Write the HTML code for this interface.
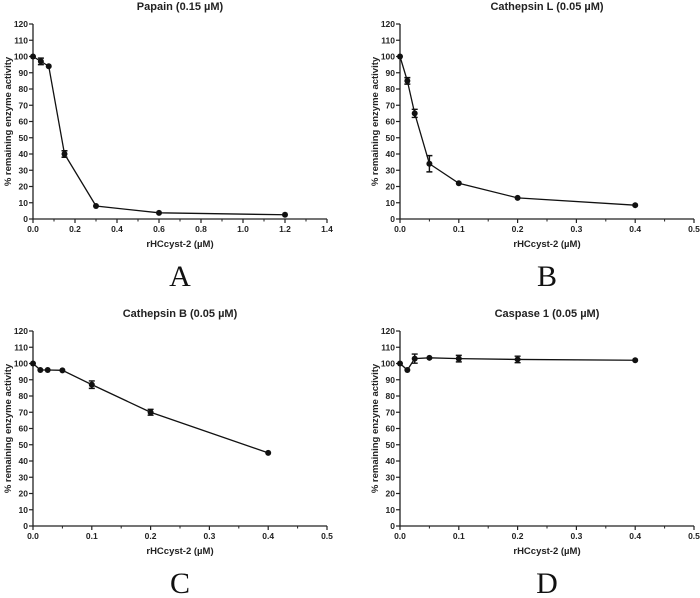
<!DOCTYPE html>
<html><head><meta charset="utf-8"><style>
html,body{margin:0;padding:0;background:#fff;width:700px;height:598px;overflow:hidden}
svg{display:block}
.t{font-family:"Liberation Sans",Arial,sans-serif;font-weight:bold;fill:#222}
</style></head><body>
<svg id="chart" width="700" height="598" viewBox="0 0 700 598" xmlns="http://www.w3.org/2000/svg"></svg>
<script>
const yTicks=[0,10,20,30,40,50,60,70,80,90,100,110,120];
const xTicksA=[0,0.2,0.4,0.6,0.8,1.0,1.2,1.4];
const xTicksB=[0,0.1,0.2,0.3,0.4,0.5];
const xA=[0,0.0375,0.075,0.15,0.3,0.6,1.2];
const yAv=[100,97,94,40,8,3.8,2.6];
const eA=[0,2,0,2,0,0,0];
const xOth=[0,0.0125,0.025,0.05,0.1,0.2,0.4];
const yBv=[100,85,65,34,22,13,8.5];
const eB=[0,2,2.5,5,0,0,0];
const yCv=[100,96,96,95.8,87,70,45];
const eC=[0,0,0,0,2.3,1.8,0];
const yDv=[100,96,103,103.5,103,102.5,102];
const eD=[0,0,2.8,0,2,2,0];
const svg=document.getElementById('chart');
const NS='http://www.w3.org/2000/svg';
function mk(tag,attrs,parent){const e=document.createElementNS(NS,tag);for(const k in attrs)e.setAttribute(k,attrs[k]);(parent||svg).appendChild(e);return e;}
function panel(name,ox,oy,title,letter,xTicks,xMax,minorStep,xs,ys,es){
  const g=mk('g',{});
  
  
  const L=ox,R=ox+294,B=oy+195,T=oy;
  const sx=v=>L+v/xMax*(R-L), sy=v=>B-v/120*(B-T);
  const ax=mk('path',{d:`M${L} ${T}V${B}H${R}`,stroke:'#222','stroke-width':1.3,fill:'none'},g);
  
  
  yTicks.forEach(v=>{
    mk('line',{x1:L-4,x2:L,y1:sy(v),y2:sy(v),stroke:'#222','stroke-width':1.2},g);
    const t=mk('text',{x:L-5,y:sy(v)+3,'text-anchor':'end','font-size':8.5,class:'t'},g);
    t.textContent=v;
    
    
  });
  xTicks.forEach(v=>{
    mk('line',{x1:sx(v),x2:sx(v),y1:B,y2:B+4,stroke:'#222','stroke-width':1.2},g);
    const t=mk('text',{x:sx(v),y:B+13,'text-anchor':'middle','font-size':8.5,class:'t'},g);
    t.textContent=v.toFixed(1);
    
    
  });
  for(let v=minorStep;v<xMax;v+=minorStep*2){
    mk('line',{x1:sx(v),x2:sx(v),y1:B,y2:B+2.5,stroke:'#222','stroke-width':1},g);
  }
  const tt=mk('text',{x:L+147,y:T-14,'text-anchor':'middle','font-size':11,class:'t'},g);
  tt.textContent=title;
  
  
  const xl=mk('text',{x:L+147,y:B+28,'text-anchor':'middle','font-size':9.5,class:'t'},g);
  xl.textContent='rHCcyst-2 (µM)';
  
  
  const yl=mk('text',{x:0,y:0,'text-anchor':'middle','font-size':9.5,class:'t',transform:`translate(${L-22},${(T+B)/2}) rotate(-90)`},g);
  yl.textContent='% remaining enzyme activity';
  
  
  const lt=mk('text',{x:L+147,y:B+67,'text-anchor':'middle','font-size':30,'font-family':'"Liberation Serif",serif',fill:'#111'},g);
  lt.textContent=letter;
  
  
  const ln=mk('polyline',{points:xs.map((x,i)=>sx(x)+','+sy(ys[i])).join(' '),fill:'none',stroke:'#111','stroke-width':1.3},g);
  
  
  xs.forEach((x,i)=>{
    if(es[i]>0){
      const cx=sx(x),y1=sy(ys[i]+es[i]),y2=sy(ys[i]-es[i]);
      const eb=mk('path',{d:`M${cx} ${y1}V${y2}M${cx-3} ${y1}H${cx+3}M${cx-3} ${y2}H${cx+3}`,stroke:'#111','stroke-width':1.4,fill:'none'},g);
      
      
    }
    const p=mk('circle',{cx:sx(x),cy:sy(ys[i]),r:3,fill:'#111'},g);
    
    
  });
}
panel('panel-a-papain',33,24,'Papain (0.15 µM)','A',xTicksA,1.4,0.1,xA,yAv,eA);
panel('panel-b-cathepsin-l',400,24,'Cathepsin L (0.05 µM)','B',xTicksB,0.5,0.05,xOth,yBv,eB);
panel('panel-c-cathepsin-b',33,331,'Cathepsin B (0.05 µM)','C',xTicksB,0.5,0.05,xOth,yCv,eC);
panel('panel-d-caspase-1',400,331,'Caspase 1 (0.05 µM)','D',xTicksB,0.5,0.05,xOth,yDv,eD);
</script>
</body></html>
